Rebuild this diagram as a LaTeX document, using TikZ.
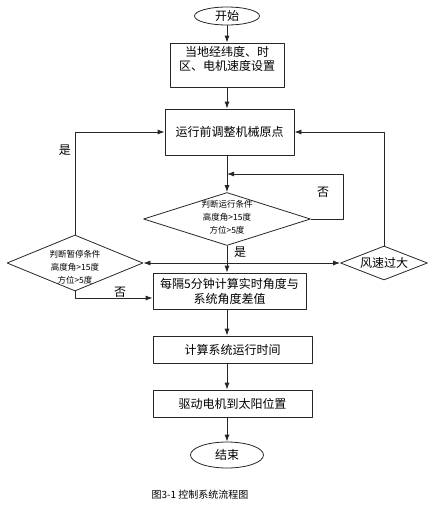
\documentclass[tikz,border=0pt]{standalone}
\usepackage{fontspec}
\setmainfont{Noto Sans CJK SC}
\usetikzlibrary{shapes.geometric,arrows.meta}
\begin{document}
\begin{tikzpicture}[x=1pt, y=-1pt, line join=round, >={Latex[length=7pt,width=5pt]},
  every node/.style={font=\fontsize{12}{14}\selectfont},
  flowline/.style={draw=black!85, line width=0.8pt},
  stepbox/.style={draw=black!85, line width=0.8pt, rectangle, align=center, inner sep=0pt},
  decision/.style={draw=black!85, line width=0.8pt, diamond, inner sep=0pt},
  terminal/.style={draw=black!85, line width=0.8pt, ellipse, inner sep=0pt},
  condtext/.style={font=\fontsize{8.5}{13}\selectfont, align=center, inner sep=0pt}]

	\useasboundingbox (0,0) rectangle (438,515);

	% boxes of the flow
	\node[terminal, minimum width=65pt, minimum height=18pt] (start) at (227,16) {开始};
	\node[stepbox, minimum width=114pt, minimum height=44pt,
		label={[yshift=6pt, align=center]center:当地经纬度、时\\区、电机速度设置}] (setup) at (227,65) {};
	\node[stepbox, minimum width=129pt, minimum height=46pt] (origin) at (229.5,132) {运行前调整机械原点};
	\node[decision, minimum width=167pt, minimum height=53pt,
		label={[condtext, yshift=2pt]center:判断运行条件\\高度角>15度\\方位>5度}] (run) at (227,219) {};
	\node[decision, minimum width=136pt, minimum height=56pt,
		label={[condtext, yshift=-4pt]center:判断暂停条件\\高度角>15度\\方位>5度}] (pause) at (75,263) {};
	\node[decision, minimum width=87pt, minimum height=34pt, label={center:风速过大}] (wind) at (384,263) {};
	\node[stepbox, minimum width=153pt, minimum height=36pt, font=\fontsize{12}{15}\selectfont] (calc) at (229.5,291) {每隔5分钟计算实时角度与\\系统角度差值};
	\node[stepbox, minimum width=159pt, minimum height=27pt] (time) at (232.5,349.5) {计算系统运行时间};
	\node[stepbox, minimum width=159pt, minimum height=27pt] (drive) at (232.5,403.5) {驱动电机到太阳位置};
	\node[terminal, minimum width=73pt, minimum height=26pt] (stop) at (227,455) {结束};

	\coordinate (back) at (227,174);

	% connectors
	\draw[flowline,->] (start) -- (setup.north -| start);
	\draw[flowline,->] (setup) -- (origin.north -| setup);
	\draw[flowline,->] (origin.south -| run) -- (run.north);
	\draw[flowline,->] (run.east) -- ++(32,0) |- (back);
	\draw[flowline,->] (run.south) -- (calc.north -| run);
	\draw[flowline,<->] (pause.east) -- (wind.west);
	\draw[flowline,->] (pause.north) |- (origin.west);
	\draw[flowline,->] (wind.north) |- (origin.east);
	\draw[flowline,->] (pause.south) |- ([yshift=-7pt]calc.west);
	\draw[flowline,->] (calc.south -| run) -- (time.north -| run);
	\draw[flowline,->] (time.south -| run) -- (drive.north -| run);
	\draw[flowline,->] (drive.south -| run) -- (stop.north);

	\node (yesleft) at (65,150) {是};
	\node (noloop) at (323,192) {否};
	\node (yesdown) at (240,252) {是};
	\node (nopause) at (120,292) {否};

	\node[font=\fontsize{10}{12}\selectfont] (caption) at (200,495) {图3-1 控制系统流程图};
\end{tikzpicture}
\end{document}
